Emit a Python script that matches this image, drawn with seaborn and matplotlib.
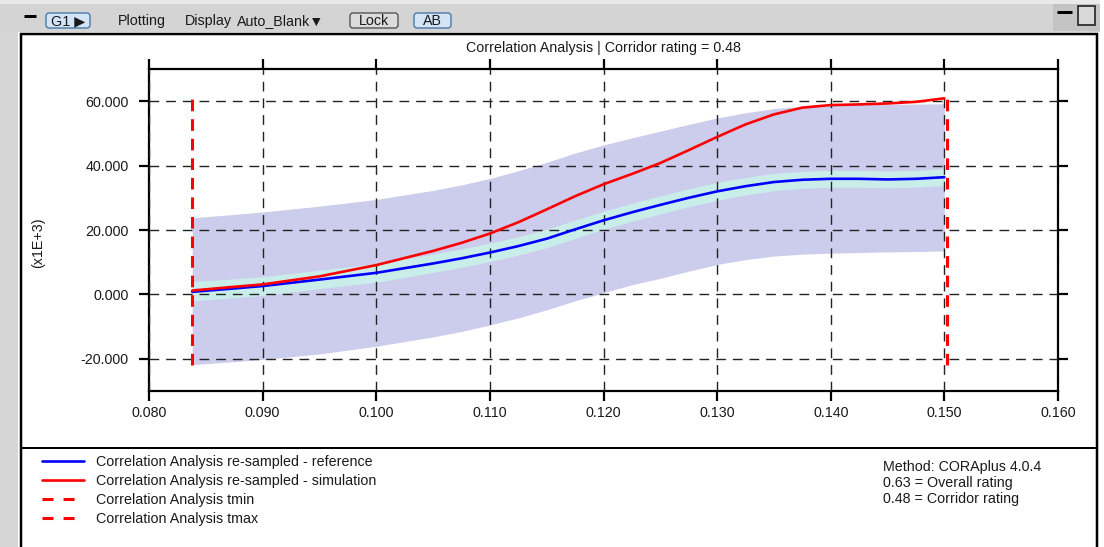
import matplotlib
matplotlib.use("Agg")
import numpy as np
import pandas as pd
import seaborn as sns
import matplotlib.pyplot as plt
from matplotlib.patches import Rectangle, FancyBboxPatch
from matplotlib.lines import Line2D
from matplotlib.transforms import IdentityTransform
from matplotlib.ticker import FuncFormatter, FixedLocator

# ---------------- data (y values in units of 1E+3) ----------------
t = [0.0838, 0.087, 0.090, 0.095, 0.100, 0.105, 0.1075, 0.110, 0.1125, 0.115, 0.1175, 0.120,
     0.1225, 0.125, 0.1275, 0.130, 0.1325, 0.135, 0.1375, 0.140, 0.1425, 0.145, 0.1475, 0.150]
reference = [0.8, 1.7, 2.6, 4.6, 6.7, 9.6, 11.2, 13.0, 15.0, 17.3, 20.2, 23.0,
             25.5, 27.8, 30.0, 32.0, 33.6, 34.9, 35.6, 35.9, 35.9, 35.7, 35.9, 36.4]
simulation = [1.2, 2.2, 3.1, 5.6, 9.1, 13.5, 16.0, 18.9, 22.4, 26.4, 30.5, 34.2,
              37.4, 40.8, 44.8, 48.9, 52.8, 55.9, 58.0, 58.8, 59.0, 59.3, 59.8, 60.9]
outer_upper = [23.8, 24.7, 25.6, 27.4, 29.5, 32.3, 34.0, 36.0, 38.4, 41.0, 43.9, 46.4,
               48.6, 50.7, 52.8, 54.8, 56.4, 57.7, 58.4, 58.8, 58.9, 59.0, 59.1, 59.2]
outer_lower = [-21.8, -21.0, -20.2, -18.5, -16.1, -13.2, -11.5, -9.5, -7.3, -4.8, -2.0, 0.5,
               3.0, 5.0, 7.2, 9.3, 10.8, 11.9, 12.5, 12.8, 13.0, 13.2, 13.3, 13.5]
inner_upper = [4.0, 4.7, 5.5, 7.5, 9.6, 12.5, 14.1, 15.9, 17.9, 20.2, 23.1, 25.8,
               28.3, 30.6, 32.8, 34.8, 36.3, 37.6, 38.2, 38.5, 38.5, 38.3, 38.5, 39.0]
inner_lower = [-2.0, -1.2, -0.3, 1.8, 3.8, 6.8, 8.4, 10.2, 12.2, 14.5, 17.4, 20.2,
               22.7, 25.0, 27.2, 29.2, 30.9, 32.2, 33.0, 33.3, 33.3, 33.1, 33.3, 33.8]
t_min = 0.0838
t_max = 0.1502
t_line_span = [-22.0, 61.0]
x_ticks = [0.080, 0.090, 0.100, 0.110, 0.120, 0.130, 0.140, 0.150, 0.160]
y_ticks = [-20, 0, 20, 40, 60]
title = "Correlation Analysis | Corridor rating = 0.48"
y_label = "(x1E+3)"
legend_labels = ["Correlation Analysis re-sampled - reference",
                 "Correlation Analysis re-sampled - simulation",
                 "Correlation Analysis tmin",
                 "Correlation Analysis tmax"]
rating_lines = ["Method: CORAplus 4.0.4", "0.63 = Overall rating", "0.48 = Corridor rating"]
toolbar_items = ["Plotting", "Display", "Auto_Blank\u25BC"]

# ---------------- style ----------------
sns.set_theme(style="white")
plt.rcParams["font.family"] = ["Liberation Sans", "DejaVu Sans"]
FS = 10.3
TXT = "#1a1a1a"

W, H = 1104, 547
fig = plt.figure(figsize=(W / 100, H / 100), dpi=100)
fig.patch.set_facecolor("white")
ID = IdentityTransform()


def rect(x0, y0, x1, y1, **kw):
    fig.add_artist(Rectangle((x0, H - y1), x1 - x0, y1 - y0, transform=ID, **kw))


def hline(x0, x1, y, lw=2, color="black"):
    fig.add_artist(Line2D([x0, x1], [H - y, H - y], transform=ID, color=color, lw=lw * 0.72,
                          solid_capstyle="butt"))


def vline(x, y0, y1, lw=2, color="black"):
    fig.add_artist(Line2D([x, x], [H - y0, H - y1], transform=ID, color=color, lw=lw * 0.72,
                          solid_capstyle="butt"))


def ptext(x, y, s, **kw):
    fig.text(x, H - y, s, transform=ID, fontsize=kw.pop("fontsize", FS), color=kw.pop("color", TXT), **kw)


# window chrome
rect(0, 0, 1100, 4, facecolor="#e9e9e9", edgecolor="none")
rect(0, 4, 1100, 32, facecolor="#d4d4d4", edgecolor="none")
rect(1053, 4, 1100, 31, facecolor="#c4c4c4", edgecolor="none")
rect(0, 32, 18, H, facecolor="#d6d6d6", edgecolor="none")
hline(24, 36, 16, lw=3)
hline(1057, 1072, 11.5, lw=3)
rect(1078, 6, 1095, 25, facecolor="#d8d8d8", edgecolor="#222222", lw=1.2)


def button(x0, x1, label, face, edge):
    fig.add_artist(FancyBboxPatch((x0, H - 28), x1 - x0, 15, boxstyle="round,pad=0,rounding_size=3",
                                  transform=ID, facecolor=face, edgecolor=edge, lw=1.0))
    ptext((x0 + x1) / 2, 21, label, ha="center", va="center")


button(46, 90, "G1 \u25B6", "#d2e4f6", "#4a78a8")
button(350, 398, "Lock", "#dcdcdc", "#555555")
button(414, 451, "AB", "#d2e4f6", "#4a78a8")
ptext(118, 21, toolbar_items[0], va="center")
ptext(185, 21, toolbar_items[1], va="center")
ptext(237, 21, toolbar_items[2], va="center")

# frame
vline(21, 33, H, lw=2.5)
vline(1097, 33, H, lw=2.5)
hline(20, 1098, 33.5, lw=2.5)
hline(20, 1098, 448, lw=2)

# ---------------- axes ----------------
ax = fig.add_axes([149 / W, 1 - 391 / H, (1058 - 149) / W, (391 - 69) / H])
ax.set_facecolor("white")

ax.fill_between(t, outer_lower, outer_upper, color="#cccced", lw=0, zorder=1)
ax.fill_between(t, inner_lower, inner_upper, color="#c9eeea", lw=0, zorder=1.1)

df = pd.DataFrame({
    "t": t + t,
    "value": reference + simulation,
    "series": [legend_labels[0]] * len(t) + [legend_labels[1]] * len(t),
})
sns.lineplot(data=df, x="t", y="value", hue="series",
             palette={legend_labels[0]: "#0000ff", legend_labels[1]: "#ff0000"},
             linewidth=1.9, legend=False, ax=ax, zorder=3, sort=False)

ax.plot([t_min, t_min], t_line_span, color="#ff0000", lw=2.2, dashes=(3.8, 2.6), zorder=4)
ax.plot([t_max, t_max], t_line_span, color="#ff0000", lw=2.2, dashes=(3.8, 2.6), zorder=4)

ax.set_xlim(0.080, 0.160)
ax.set_ylim(-30, 70)
ax.xaxis.set_major_locator(FixedLocator(x_ticks))
ax.yaxis.set_major_locator(FixedLocator(y_ticks))
ax.xaxis.set_major_formatter(FuncFormatter(lambda v, p: f"{v:.3f}"))
ax.yaxis.set_major_formatter(FuncFormatter(lambda v, p: f"{v:.3f}"))
ax.set_xlabel("")
ax.set_ylabel("")
ax.set_axisbelow(False)
ax.grid(True, color="#222222", lw=1.0, dashes=(7, 5))
for sp in ax.spines.values():
    sp.set_visible(True)
    sp.set_color("black")
    sp.set_linewidth(1.6)
ax.tick_params(axis="both", which="major", direction="out", length=7.5, width=1.6,
               top=True, right=True, bottom=True, left=True, colors="black",
               labelsize=FS, labelcolor=TXT)
ax.tick_params(axis="x", pad=3.5)
ax.tick_params(axis="y", pad=7)

ptext(603.5, 48, title, ha="center", va="center")
ptext(38, 243, y_label, ha="center", va="center", rotation=90)

# ---------------- legend panel ----------------
dash_proxy = dict(color="#ff0000", lw=2.2, dashes=(3.6, 3.3))
handles = [ax.lines[0], ax.lines[1], Line2D([], [], **dash_proxy), Line2D([], [], **dash_proxy)]
fig.legend(handles, legend_labels, loc="upper left", bbox_to_anchor=(42 / W, 1 - 455 / H),
           frameon=False, fontsize=FS, handlelength=2.95, handletextpad=0.8,
           labelspacing=0.36, borderpad=0, borderaxespad=0, labelcolor=TXT)

ptext(883, 460, "\n".join(rating_lines), ha="left", va="top", linespacing=1.16)

fig.savefig("out.png", dpi=100)
